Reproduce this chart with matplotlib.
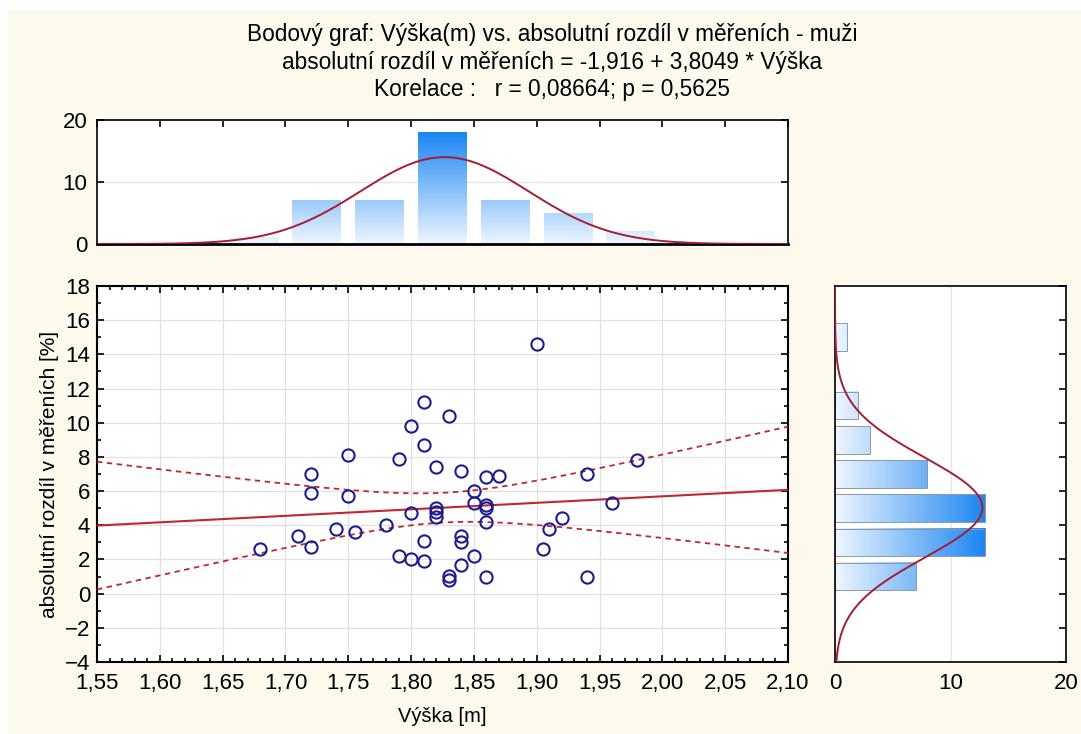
import numpy as np
import matplotlib.pyplot as plt
from matplotlib.colors import LinearSegmentedColormap
from matplotlib.patches import Rectangle
from matplotlib.ticker import MultipleLocator, FuncFormatter

# scatter data: height [m] vs absolute difference [%]
vyska = [1.75, 1.79, 1.82, 1.84, 1.72, 1.72, 1.75, 1.85, 1.85, 1.80,
         1.82, 1.82, 1.82, 1.78, 1.74, 1.755, 1.71, 1.68, 1.72, 1.81,
         1.84, 1.84, 1.79, 1.80, 1.81, 1.85, 1.84, 1.83, 1.83, 1.86,
         1.87, 1.86, 1.86, 1.86, 1.86, 1.94, 1.905, 1.91, 1.92, 1.96,
         1.94, 1.98, 1.90, 1.81, 1.83, 1.80, 1.81]
rozdil = [8.1, 7.9, 7.4, 7.2, 7.0, 5.9, 5.7, 6.0, 5.3, 4.7,
          5.0, 4.75, 4.5, 4.0, 3.8, 3.6, 3.4, 2.6, 2.7, 3.1,
          3.4, 3.0, 2.2, 2.0, 1.9, 2.2, 1.7, 1.05, 0.8, 6.8,
          6.9, 5.2, 5.0, 4.2, 1.0, 1.0, 2.6, 3.8, 4.4, 5.3,
          7.0, 7.8, 14.6, 11.2, 10.4, 9.8, 8.7]

# histogram of heights (bin centres, counts)
vyska_bins = [1.675, 1.725, 1.775, 1.825, 1.875, 1.925, 1.975]
vyska_counts = [1, 7, 7, 18, 7, 5, 2]
# histogram of differences
rozdil_bins = [1, 3, 5, 7, 9, 11, 15]
rozdil_counts = [7, 13, 13, 8, 3, 2, 1]

intercept = -1.916
slope = 3.8049

title = ("Bodový graf: Výška(m) vs. absolutní rozdíl v měřeních - muži\n"
         "absolutní rozdíl v měřeních = -1,916 + 3,8049 * Výška\n"
         "Korelace :   r = 0,08664; p = 0,5625")

plt.rcParams['font.family'] = ['Liberation Sans', 'DejaVu Sans']
plt.rcParams['font.size'] = 13.5

bg = '#fdf9ee'
red = '#c0282e'
curve_col = '#a51d35'
cmap = LinearSegmentedColormap.from_list('bl', ['#eef6ff', '#1c86f2'])

fig = plt.figure(figsize=(10.81, 7.34), dpi=100)
fig.patch.set_facecolor('white')
fig.patches.append(Rectangle((8 / 1081, 0), 1, 1 - 10 / 734, transform=fig.transFigure,
                             facecolor=bg, edgecolor='none', zorder=-10))

W, H = 1081, 734


def axes_px(l, t, r, b):
    return fig.add_axes([l / W, 1 - b / H, (r - l) / W, (b - t) / H])


comma = FuncFormatter(lambda v, p: ('%.2f' % v).replace('.', ','))

# ---- main scatter
ax = axes_px(97, 286, 788, 662)
x = np.array(vyska)
y = np.array(rozdil)
ax.plot(x, y, 'o', ms=8.8, mfc='none', mec='#1c1c8e', mew=1.5, zorder=5)

xx = np.linspace(1.55, 2.10, 200)
fit = intercept + slope * xx
n = len(x)
res = y - (intercept + slope * x)
s = np.sqrt(np.sum(res ** 2) / (n - 2))
se = s * np.sqrt(1 / n + (xx - x.mean()) ** 2 / np.sum((x - x.mean()) ** 2))
t95 = 2.014
ax.plot(xx, fit, color=red, lw=1.5, zorder=4)
ax.plot(xx, fit + t95 * se, color=red, lw=1.3, ls=(0, (3, 2.5)), zorder=4)
ax.plot(xx, fit - t95 * se, color=red, lw=1.3, ls=(0, (3, 2.5)), zorder=4)

ax.set_xlim(1.55, 2.10)
ax.set_ylim(-4, 18)
ax.xaxis.set_major_locator(MultipleLocator(0.05))
ax.xaxis.set_minor_locator(MultipleLocator(0.01))
ax.yaxis.set_major_locator(MultipleLocator(2))
ax.yaxis.set_minor_locator(MultipleLocator(1))
ax.xaxis.set_major_formatter(comma)
ax.grid(True, which='major', color='#e0e0e6', lw=0.9)
ax.set_axisbelow(True)
ax.tick_params(which='both', direction='in', top=True, right=True, width=1.2)
ax.tick_params(which='major', length=5, pad=8)
ax.tick_params(which='minor', length=3)
ax.tick_params(axis='x', labelsize=16)
ax.tick_params(axis='y', labelsize=16, pad=5)
for sp in ax.spines.values():
    sp.set_linewidth(1.5)
ax.set_xlabel('Výška [m]', fontsize=14.5, labelpad=9)
ax.set_ylabel('absolutní rozdíl v měřeních [%]', fontsize=15, labelpad=4)

# ---- top histogram
axt = axes_px(97, 120, 788, 244)
for c, h in zip(vyska_bins, vyska_counts):
    x0, x1 = c - 0.0195, c + 0.0195
    grad = np.linspace(0, h, 100).reshape(-1, 1)
    axt.imshow(grad, extent=[x0, x1, 0, h], origin='lower', aspect='auto',
               cmap=cmap, vmin=0, vmax=18, zorder=2)
g = np.linspace(1.55, 2.10, 400)
mu, sd = x.mean(), x.std(ddof=1)
axt.plot(g, n * 0.05 * np.exp(-0.5 * ((g - mu) / sd) ** 2) / (sd * np.sqrt(2 * np.pi)),
         color=curve_col, lw=1.4, zorder=3)
axt.set_xlim(1.55, 2.10)
axt.set_ylim(0, 20)
axt.set_yticks([0, 10, 20])
axt.xaxis.set_major_locator(MultipleLocator(0.05))
axt.set_xticklabels([])
axt.grid(True, axis='y', color='#e0e0e6', lw=0.9)
axt.set_axisbelow(True)
axt.tick_params(axis='x', direction='in', top=True, bottom=False, length=5, width=1.2)
axt.tick_params(axis='y', direction='in', right=True, length=5, width=1.2,
                labelsize=16, pad=7)
for sp in axt.spines.values():
    sp.set_linewidth(1.2)
axt.spines['bottom'].set_linewidth(2)

# ---- right histogram
axr = axes_px(835, 286, 1066, 662)
for c, w in zip(rozdil_bins, rozdil_counts):
    y0, y1 = c - 0.81, c + 0.81
    grad = np.linspace(0, w, 100).reshape(1, -1)
    axr.imshow(grad, extent=[0, w, y0, y1], origin='lower', aspect='auto',
               cmap=cmap, vmin=0, vmax=13, zorder=2)
    axr.add_patch(Rectangle((0, y0), w, y1 - y0, fill=False, edgecolor='#8a98a8',
                            lw=0.7, zorder=2.5))
gy = np.linspace(-4, 18, 400)
muy, sdy = y.mean(), y.std(ddof=1)
axr.plot(n * 2 * np.exp(-0.5 * ((gy - muy) / sdy) ** 2) / (sdy * np.sqrt(2 * np.pi)), gy,
         color=curve_col, lw=1.4, zorder=3)
axr.set_xlim(0, 20)
axr.set_ylim(-4, 18)
axr.set_xticks([0, 10, 20])
axr.yaxis.set_major_locator(MultipleLocator(2))
axr.set_yticklabels([])
axr.grid(True, axis='x', color='#e0e0e6', lw=0.9)
axr.set_axisbelow(True)
axr.tick_params(axis='y', direction='in', left=False, right=True, length=5, width=1.2)
axr.tick_params(axis='x', direction='in', length=0, labelsize=16, pad=8)
for sp in axr.spines.values():
    sp.set_linewidth(1.2)

fig.text(0.5106, 1 - 62 / H, title, ha='center', va='center', fontsize=16.3,
         linespacing=1.25)

fig.savefig('out.png', dpi=100, facecolor=fig.get_facecolor())
